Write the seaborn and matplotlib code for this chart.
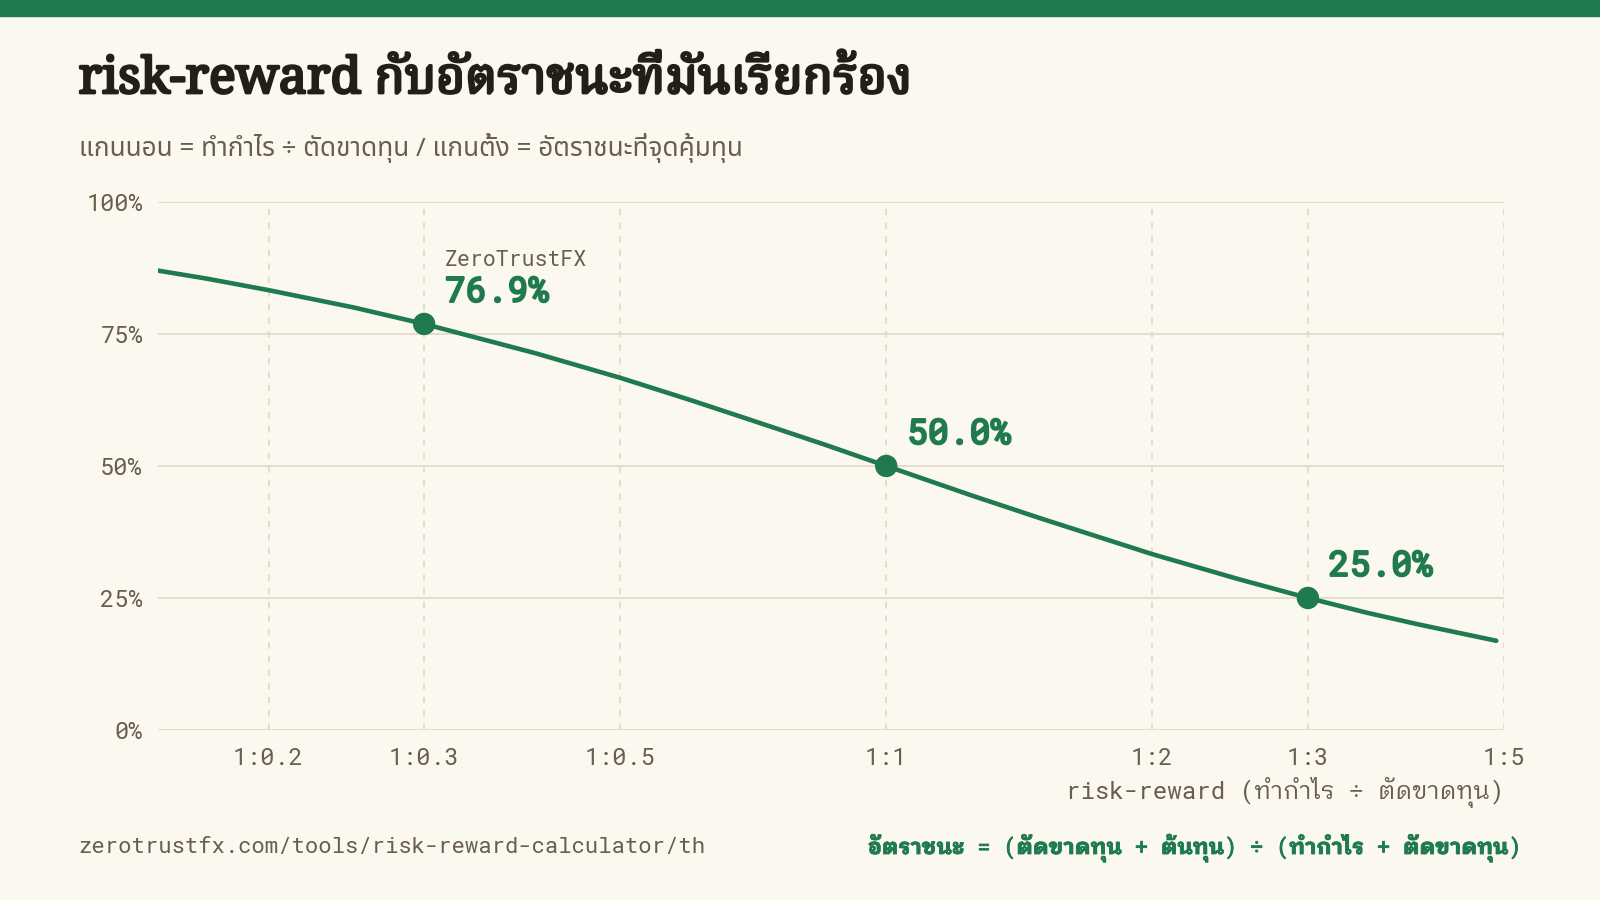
import matplotlib
matplotlib.use("Agg")
import matplotlib.pyplot as plt
import matplotlib.patheffects as pe
from matplotlib import font_manager
from matplotlib.ft2font import FT2Font
import seaborn as sns
import pandas as pd

# ---------------- data ----------------
rr_ratio = [0.15, 0.17, 0.2, 0.25, 0.3, 0.4, 0.5, 0.6, 0.7, 0.85, 1.0, 1.25, 1.5, 2.0, 2.5, 3.0, 3.5, 4.0, 4.9]
win_rate = [87.0, 85.5, 83.3, 80.0, 76.9, 71.4, 66.7, 62.5, 58.8, 54.1, 50.0, 44.4, 40.0, 33.3, 28.6, 25.0, 22.2, 20.0, 16.9]

mark_ratio = [0.3, 1.0, 3.0]
mark_rate = [76.9, 50.0, 25.0]
mark_label = ["76.9%", "50.0%", "25.0%"]

x_ticks = [0.2, 0.3, 0.5, 1, 2, 3, 5]
x_tick_labels = ["1:0.2", "1:0.3", "1:0.5", "1:1", "1:2", "1:3", "1:5"]
y_ticks = [0, 25, 50, 75, 100]
y_tick_labels = ["0%", "25%", "50%", "75%", "100%"]

title = "risk-reward กับอัตราชนะที่มันเรียกร้อง"
subtitle = "แกนนอน = ทำกำไร ÷ ตัดขาดทุน / แกนตั้ง = อัตราชนะที่จุดคุ้มทุน"
x_label = "risk-reward (ทำกำไร ÷ ตัดขาดทุน)"
brand = "ZeroTrustFX"
footer_left = "zerotrustfx.com/tools/risk-reward-calculator/th"
footer_right = "อัตราชนะ = (ตัดขาดทุน + ต้นทุน) ÷ (ทำกำไร + ตัดขาดทุน)"

# ---------------- fonts ----------------
def families_with(ch):
    fams = set()
    for f in font_manager.fontManager.ttflist:
        try:
            cm = FT2Font(f.fname).get_charmap()
        except Exception:
            continue
        if ord(ch) in cm:
            fams.add(f.name)
    return fams

thai = families_with("ก")
all_names = {f.name for f in font_manager.fontManager.ttflist}

def pick(cands, pool, default):
    for c in cands:
        if c in pool:
            return c
    return default

thai_serif = pick(["Noto Serif Thai", "Taviraj"], thai, "DejaVu Sans")
thai_sans = pick(["Noto Sans Thai", "Sarabun"], thai, "DejaVu Sans")
thai_mono = pick(["IBM Plex Sans Thai Looped", "Noto Sans Thai Looped", "Loma"], thai, thai_sans)
mono = pick(["Roboto Mono", "DejaVu Sans Mono"], all_names, "DejaVu Sans Mono")
serif_latin = pick(["Noto Serif", "DejaVu Serif"], all_names, "DejaVu Serif")

# ---------------- style ----------------
BG = "#fbf8ef"
GREEN = "#1f7a4f"
INK = "#231f16"
MUTED = "#6b5d4b"
GRID = "#e3dac6"

sns.set_theme(style="white", rc={"figure.facecolor": BG, "axes.facecolor": BG})
plt.rcParams["font.family"] = [mono, thai_mono, "DejaVu Sans"]

fig = plt.figure(figsize=(16, 9), dpi=100)
ax = fig.add_axes([0.0988, 0.1889, 0.9400 - 0.0988, 0.7756 - 0.1889])

df = pd.DataFrame({"rr": rr_ratio, "win": win_rate})
dm = pd.DataFrame({"rr": mark_ratio, "win": mark_rate})

sns.lineplot(data=df, x="rr", y="win", ax=ax, color=GREEN, lw=3.3, zorder=3)
sns.scatterplot(data=dm, x="rr", y="win", ax=ax, color=GREEN, s=260, zorder=4, edgecolor="none")

ax.set_xscale("log")
ax.set_xlim(0.15, 5)
ax.set_ylim(0, 100)
ax.set_xticks(x_ticks)
ax.set_xticklabels(x_tick_labels)
ax.minorticks_off()
ax.set_yticks(y_ticks)
ax.set_yticklabels(y_tick_labels)
ax.tick_params(axis="both", length=0, labelsize=17, labelcolor=MUTED)
ax.tick_params(axis="x", pad=12)
ax.tick_params(axis="y", pad=11)
ax.set_xlabel("")
ax.set_ylabel("")
for s in ax.spines.values():
    s.set_visible(False)
ax.yaxis.grid(True, color=GRID, lw=1.3, ls="-", zorder=0)
ax.xaxis.grid(True, color=GRID, lw=1.3, ls=(0, (3.5, 4)), zorder=0)
ax.set_axisbelow(True)

bold_green = [pe.withStroke(linewidth=1.6, foreground=GREEN)]
for xv, yv, lab in zip(mark_ratio, mark_rate, mark_label):
    ax.annotate(lab, xy=(xv, yv), xytext=(15, 23), textcoords="offset points",
                ha="left", va="center", fontsize=25, color=GREEN,
                family=[mono], path_effects=bold_green)
ax.annotate(brand, xy=(mark_ratio[0], mark_rate[0]), xytext=(15, 46), textcoords="offset points",
            ha="left", va="center", fontsize=15.5, color=MUTED, family=[mono])

ax.text(1.0, -0.118, x_label, transform=ax.transAxes, ha="right", va="center",
        fontsize=17.4, color=MUTED, family=[mono, thai_mono])

fig.patches.append(plt.Rectangle((0, 1 - 16 / 900), 1, 16 / 900, transform=fig.transFigure,
                                 color=GREEN, zorder=5))

fig.text(78.6 / 1600, 1 - 80 / 900, title, ha="left", va="center", fontsize=36,
         color=INK, family=[thai_serif, serif_latin],
         path_effects=[pe.withStroke(linewidth=2.0, foreground=INK)])
fig.text(78.6 / 1600, 1 - 148 / 900, subtitle, ha="left", va="center", fontsize=18.8,
         color=MUTED, family=[thai_sans])
fig.text(78.6 / 1600, 1 - 848 / 900, footer_left, ha="left", va="center", fontsize=16,
         color=MUTED, family=[mono])
fig.text(1520 / 1600, 1 - 848 / 900, footer_right, ha="right", va="center", fontsize=15.6,
         fontweight="bold", color=GREEN, family=[mono, thai_mono],
         path_effects=[pe.withStroke(linewidth=0.6, foreground=GREEN)])

fig.savefig("out.png", dpi=100, facecolor=BG)
